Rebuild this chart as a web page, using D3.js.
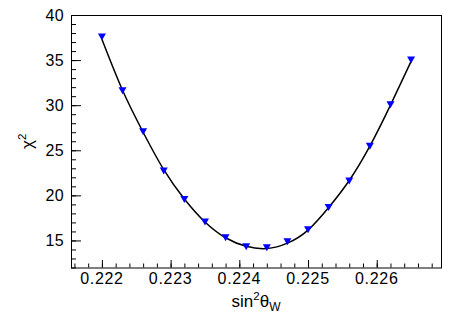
<!DOCTYPE html>
<html>
<head>
<meta charset="utf-8">
<script src="https://cdn.jsdelivr.net/npm/d3@7"></script>
<style>
  html, body { margin: 0; padding: 0; background: #fff; }
  svg { display: block; }
  text { font-family: "Liberation Sans", Arial, Helvetica, sans-serif; fill: #000; }
</style>
</head>
<body>
<div id="chart"></div>
<script>
// ---- data ----
const sinTheta = [0.2220, 0.2223, 0.2226, 0.2229, 0.2232, 0.2235, 0.2238, 0.2241,
                  0.2244, 0.2247, 0.2250, 0.2253, 0.2256, 0.2259, 0.2262, 0.2265];
const chi2 = [37.55, 31.6, 27.05, 22.7, 19.55, 17.05, 15.3, 14.3,
              14.2, 14.85, 16.2, 18.65, 21.6, 25.45, 30.05, 35.0];
const fitChi2 = [37.3, 31.65, 27.0, 22.85, 19.6, 17.05, 15.3, 14.35,
                 14.1, 14.7, 16.15, 18.65, 21.65, 25.45, 30.0, 34.85];
const xTickLabels = ["0.222", "0.223", "0.224", "0.225", "0.226"];
const yTickLabels = ["15", "20", "25", "30", "35", "40"];

// ---- layout ----
const W = 463, H = 315;
const frame = { left: 71, right: 442, top: 15, bottom: 267.5 };

const svg = d3.select("#chart").append("svg").attr("width", W).attr("height", H);

const x = d3.scaleLinear().domain([0.22155, 0.22695]).range([frame.left, frame.right]);
const y = d3.scaleLinear().domain([12, 40]).range([frame.bottom, frame.top]);

// minor ticks
const xMinor = d3.range(0.2216, 0.22695, 0.0002);
const yMinor = d3.range(12, 40.01, 1);

// x axis
const xAxisMinor = d3.axisTop(x).tickValues(xMinor).tickSize(4).tickFormat("");
const xAxisMajor = d3.axisTop(x).tickValues(xTickLabels.map(Number)).tickSize(7.5).tickFormat("");
[xAxisMinor, xAxisMajor].forEach(ax => {
  const g = svg.append("g").attr("transform", `translate(0,${frame.bottom})`).call(ax);
  g.select(".domain").remove();
  g.selectAll(".tick line").attr("stroke", "#000").attr("stroke-width", 1);
});
svg.append("g").selectAll("text").data(xTickLabels).join("text")
  .attr("x", d => x(+d)).attr("y", 283.5)
  .attr("text-anchor", "middle").attr("font-size", 16).attr("letter-spacing", 0.7)
  .text(d => d);

// y axis
const yAxisMinor = d3.axisRight(y).tickValues(yMinor).tickSize(5).tickFormat("");
const yAxisMajor = d3.axisRight(y).tickValues(yTickLabels.map(Number)).tickSize(10).tickFormat("");
[yAxisMinor, yAxisMajor].forEach(ax => {
  const g = svg.append("g").attr("transform", `translate(${frame.left},0)`).call(ax);
  g.select(".domain").remove();
  g.selectAll(".tick line").attr("stroke", "#000").attr("stroke-width", 1);
});
svg.append("g").selectAll("text").data(yTickLabels).join("text")
  .attr("x", 64).attr("y", d => y(+d) + 5.8)
  .attr("text-anchor", "end").attr("font-size", 16).attr("letter-spacing", 0.3)
  .text(d => d);

// frame
svg.append("rect")
  .attr("x", frame.left + 0.5).attr("y", frame.top + 0.5)
  .attr("width", frame.right - frame.left - 1).attr("height", frame.bottom - frame.top)
  .attr("fill", "none").attr("stroke", "#000").attr("stroke-width", 1);

// fit curve
const line = d3.line().x((d, i) => x(sinTheta[i])).y(d => y(d)).curve(d3.curveNatural);
svg.append("path").datum(fitChi2)
  .attr("d", line).attr("fill", "none").attr("stroke", "#000").attr("stroke-width", 1.5);

// markers (triangle down)
const tri = "M-4,-3.5 L4,-3.5 L0,3.5 Z";
svg.append("g").selectAll("path").data(chi2).join("path")
  .attr("transform", (d, i) => `translate(${x(sinTheta[i])},${y(d)})`)
  .attr("d", tri).attr("fill", "#0000ff");

// x title: sin^2 theta_W
const xt = svg.append("text").attr("x", 256).attr("y", 307)
  .attr("text-anchor", "middle").attr("font-size", 17);
xt.append("tspan").text("sin");
xt.append("tspan").attr("dy", -7).attr("font-size", 11.5).text("2");
xt.append("tspan").attr("dy", 7).text("θ");
xt.append("tspan").attr("dy", 4).attr("font-size", 12).text("W");

// y title: chi^2
const yt = svg.append("text")
  .attr("transform", `translate(33,${(frame.top + frame.bottom) / 2}) rotate(-90)`)
  .attr("text-anchor", "middle").attr("font-size", 17);
yt.append("tspan").text("χ");
yt.append("tspan").attr("dy", -7).attr("font-size", 11.5).text("2");
</script>
</body>
</html>
